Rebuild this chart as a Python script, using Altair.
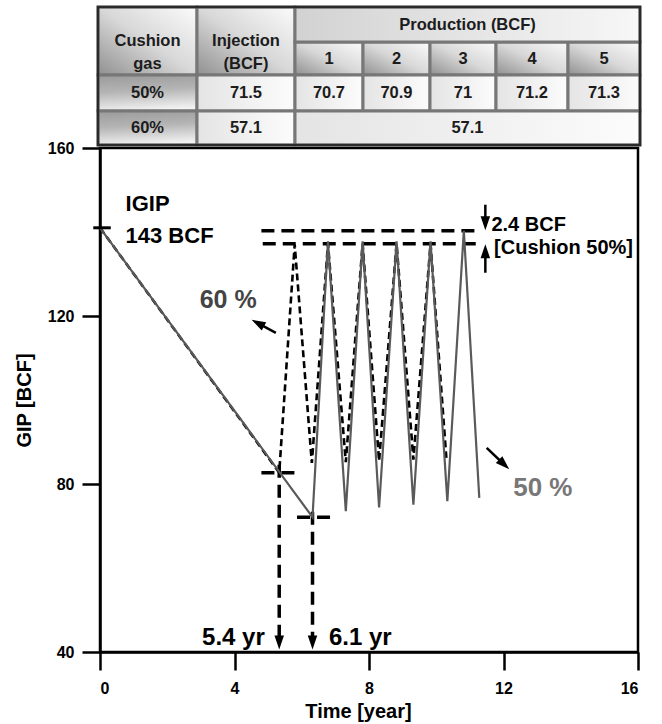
import math
import altair as alt
import pandas as pd

FONT = "Liberation Sans"

# ---------------- chart data ----------------
time_50 = [0.0, 6.32, 6.78, 7.31, 7.81, 8.30, 8.82, 9.32, 9.83, 10.33, 10.82, 11.28]
gip_50 = [141.0, 72.1, 137.8, 73.5, 137.8, 74.4, 137.8, 75.1, 137.8, 75.9, 140.3, 76.7]
time_60 = [0.0, 5.33, 5.79, 6.30, 6.78, 7.31, 7.81, 8.30, 8.82, 9.32, 9.83, 10.30]
gip_60 = [141.0, 82.7, 137.0, 85.0, 137.2, 85.2, 137.2, 85.5, 137.2, 85.8, 137.2, 86.2]

x_ticks = [0, 4, 8, 12, 16]
y_ticks = [40, 80, 120, 160]

# table contents
cushion_levels = ["50%", "60%"]
injection_bcf = ["71.5", "57.1"]
production_cycles = ["1", "2", "3", "4", "5"]
production_50 = ["70.7", "70.9", "71", "71.2", "71.3"]
production_60 = "57.1"

# annotation values
igip = (0.0, 141.0)
band_levels = [140.3, 137.2]          # the 2.4 BCF band
band_start = [4.80, 4.84]
band_end = 11.28
switch_60 = (5.33, 82.7)              # 5.4 yr
switch_50 = (6.32, 72.1)              # 6.1 yr

# ---------------- layout ----------------
W, H = 538, 504
XD, YD = (0, 16), (40, 160)
px_x = W / (XD[1] - XD[0])
px_y = H / (YD[1] - YD[0])

xs = alt.Scale(domain=list(XD), nice=False, zero=False)
ys = alt.Scale(domain=list(YD), nice=False, zero=False)

x_axis = alt.Axis(values=x_ticks, title="Time [year]", grid=False, tickSize=18, tickWidth=2.5,
                  domainWidth=2.5, domainColor="black", tickColor="black",
                  labelFont=FONT, labelFontSize=16, labelFontWeight="bold", labelColor="black",
                  labelPadding=10, titleFont=FONT, titleFontSize=20, titleFontWeight="bold",
                  titleColor="black", titleX=258, titleY=65, titleBaseline="alphabetic")
y_axis = alt.Axis(values=y_ticks, title="GIP [BCF]", grid=False, tickSize=18, tickWidth=2.5,
                  domainWidth=2.5, domainColor="black", tickColor="black",
                  labelFont=FONT, labelFontSize=16, labelFontWeight="bold", labelColor="black",
                  labelPadding=8, titleFont=FONT, titleFontSize=20, titleFontWeight="bold",
                  titleColor="black", titleX=-66, titleY=H / 2, titleBaseline="bottom")

X = lambda f: alt.X(f, scale=xs, axis=x_axis)
Y = lambda f: alt.Y(f, scale=ys, axis=y_axis)

df50 = pd.DataFrame({"t": time_50, "g": gip_50, "i": range(len(time_50))})
df60 = pd.DataFrame({"t": time_60, "g": gip_60, "i": range(len(time_60))})

line60 = alt.Chart(df60).mark_line(color="black", strokeWidth=2.6, strokeDash=[7, 4]).encode(
    x=X("t:Q"), y=Y("g:Q"), order="i:Q")
line50 = alt.Chart(df50).mark_line(color="#5a5a5a", strokeWidth=2.2).encode(
    x=X("t:Q"), y=Y("g:Q"), order="i:Q")

# thick dashed guide segments
segs = [
    (band_start[0], band_levels[0], band_end, band_levels[0]),
    (band_start[1], band_levels[1], band_end, band_levels[1]),
    (switch_60[0] - 0.53, switch_60[1], switch_60[0] + 0.49, switch_60[1]),
    (switch_50[0] - 0.46, switch_50[1], switch_50[0] + 0.58, switch_50[1]),
]
seg_df = pd.DataFrame(segs, columns=["x0", "y0", "x1", "y1"])
guides = alt.Chart(seg_df).mark_rule(color="black", strokeWidth=3.5, strokeDash=[13, 7]).encode(
    x=X("x0:Q"), y=Y("y0:Q"), x2="x1:Q", y2="y1:Q")

# arrows: (x_from, y_from, x_tip, y_tip, dashed)
arrows = [
    (switch_60[0], switch_60[1] + 1.9, switch_60[0], 40.6, True),
    (switch_50[0], switch_50[1] + 1.3, switch_50[0], 40.6, True),
    (5.23, 116.0, 4.51, 119.1, False),
    (11.50, 88.6, 12.17, 83.5, False),
    (11.46, 146.5, 11.46, band_levels[0] + 0.1, False),
    (11.46, 130.3, 11.46, band_levels[1] - 0.1, False),
]
HEAD = 7.0
rows = []
for x0, y0, x1, y1, dashed in arrows:
    dx, dy = (x1 - x0) * px_x, -(y1 - y0) * px_y
    d = math.hypot(dx, dy)
    ux, uy = dx / d, dy / d
    cx, cy = x1 - ux * HEAD / px_x, y1 + uy * HEAD / px_y
    ang = math.degrees(math.atan2(ux, -uy)) % 360
    rows.append({"x0": x0, "y0": y0, "cx": cx, "cy": cy, "ang": ang, "dashed": dashed})
arr_df = pd.DataFrame(rows)

shaft_dashed = alt.Chart(arr_df[arr_df.dashed]).mark_rule(
    color="black", strokeWidth=3.5, strokeDash=[13, 7]).encode(
    x=X("x0:Q"), y=Y("y0:Q"), x2="cx:Q", y2="cy:Q")
shaft_solid = alt.Chart(arr_df[~arr_df.dashed]).mark_rule(color="black", strokeWidth=2.5).encode(
    x=X("x0:Q"), y=Y("y0:Q"), x2="cx:Q", y2="cy:Q")
heads = alt.Chart(arr_df).mark_point(
    shape="M0,-1L0.68,1L-0.68,1Z", filled=True, color="black", opacity=1, size=196,
    strokeWidth=0).encode(x=X("cx:Q"), y=Y("cy:Q"), angle=alt.Angle("ang:Q", scale=None))

igip_tick = alt.Chart(pd.DataFrame({"x0": [igip[0] - 0.2], "x1": [igip[0] + 0.32],
                                     "y": [igip[1]]})).mark_rule(color="black", strokeWidth=3).encode(
    x=X("x0:Q"), x2="x1:Q", y=Y("y:Q"))

def texts(items, align):
    df = pd.DataFrame(items, columns=["label", "x", "y", "fs", "col"])
    return alt.Chart(df).mark_text(align=align, baseline="middle", font=FONT,
                                   fontWeight="bold").encode(
        x=X("x:Q"), y=Y("y:Q"), text="label:N",
        size=alt.Size("fs:Q", scale=None), color=alt.Color("col:N", scale=None))

txt_left = texts([
    ("IGIP", 0.76, 146.7, 22, "black"),
    ("143 BCF", 0.76, 139.1, 22, "black"),
    ("2.4 BCF", 11.64, 141.7, 20, "black"),
    ("[Cushion 50%]", 11.72, 136.2, 20, "black"),
    ("6.1 yr", 6.81, 43.4, 24, "black"),
], "left")
txt_right = texts([("5.4 yr", 4.90, 43.4, 24, "black")], "right")
txt_center = texts([
    ("60 %", 3.81, 123.9, 25, "#444444"),
    ("50 %", 13.17, 79.0, 26, "#777777"),
], "center")

plot = alt.layer(guides, shaft_dashed, line60, line50, shaft_solid, heads, igip_tick,
                 txt_left, txt_right, txt_center)

# ---------------- table above the plot ----------------
col_w = [99, 98, 68, 67, 66, 72, 72]
row_h = [35, 33, 36, 34]
cx_edges = [sum(col_w[:k]) for k in range(len(col_w) + 1)]
ry_edges = [sum(row_h[:k]) for k in range(len(row_h) + 1)]
TW, TH = cx_edges[-1], ry_edges[-1]

cells = []
def cell(c0, c1, r0, r1, text, style):
    cells.append({"x0": cx_edges[c0], "x1": cx_edges[c1], "y0": ry_edges[r0], "y1": ry_edges[r1],
                  "cx": (cx_edges[c0] + cx_edges[c1]) / 2, "cy": (ry_edges[r0] + ry_edges[r1]) / 2,
                  "text": text, "style": style})

cell(0, 1, 0, 2, "Cushion\ngas", "hdr")
cell(1, 2, 0, 2, "Injection\n(BCF)", "hdr")
cell(2, 7, 0, 1, "Production (BCF)", "prod")
for k, c in enumerate(production_cycles):
    cell(2 + k, 3 + k, 1, 2, c, "hdr")
for r, lev in enumerate(cushion_levels):
    cell(0, 1, 2 + r, 3 + r, lev, "rowlab")
    cell(1, 2, 2 + r, 3 + r, injection_bcf[r], "data")
for k, v in enumerate(production_50):
    cell(2 + k, 3 + k, 2, 3, v, "data")
cell(2, 7, 3, 4, production_60, "data")
cells_df = pd.DataFrame(cells)

txs = alt.Scale(domain=[0, TW], range=[-2, TW - 2], nice=False, zero=False)
tys = alt.Scale(domain=[0, TH], range=[-141, TH - 141], nice=False, zero=False)

def grad(stops, x1=0, y1=0, x2=1, y2=0):
    return {"gradient": "linear", "x1": x1, "y1": y1, "x2": x2, "y2": y2,
            "stops": [{"offset": o, "color": c} for o, c in stops]}

fills = {
    "hdr": grad([(0, "#909090"), (0.5, "#d8d8d8"), (1, "#fbfbfb")], 0, 1, 1, 0),
    "prod": grad([(0, "#d2d2d2"), (1, "#f7f7f7")]),
    "rowlab": grad([(0, "#9c9c9c"), (0.45, "#b4b4b4"), (1, "#f2f2f2")], 0.2, 0, 0.35, 1),
    "data": grad([(0, "#e4e4e4"), (1, "#fcfcfc")]),
}

tlayers = []
for style, fill in fills.items():
    tlayers.append(alt.Chart(cells_df[cells_df["style"] == style]).mark_rect(
        fill=fill, stroke="#777777", strokeWidth=3).encode(
        x=alt.X("x0:Q", scale=txs, axis=None), x2="x1:Q",
        y=alt.Y("y0:Q", scale=tys, axis=None), y2="y1:Q"))
frame = alt.Chart(pd.DataFrame({"x0": [0], "x1": [TW], "y0": [0], "y1": [TH]})).mark_rect(
    fillOpacity=0, stroke="#2a2a2a", strokeWidth=2.5).encode(
    x=alt.X("x0:Q", scale=txs, axis=None), x2="x1:Q",
    y=alt.Y("y0:Q", scale=tys, axis=None), y2="y1:Q")
ttext = alt.Chart(cells_df).mark_text(font=FONT, fontWeight="bold", fontSize=16.5, color="#1c1c1c",
                                      lineBreak="\n", lineHeight=23, baseline="middle").encode(
    x=alt.X("cx:Q", scale=txs, axis=None), y=alt.Y("cy:Q", scale=tys, axis=None), text="text:N")
table = alt.layer(*tlayers, frame, ttext)

chart = alt.layer(plot, table).resolve_scale(x="independent", y="independent").properties(
    width=W, height=H,
    background="white",
    autosize=alt.AutoSizeParams(type="none"),
    padding={"left": 100, "top": 148, "right": 24, "bottom": 72},
).configure_view(stroke="black", strokeWidth=2.5, fill="white")

chart.save("out.html", embed_options={"renderer": "svg", "actions": False})
